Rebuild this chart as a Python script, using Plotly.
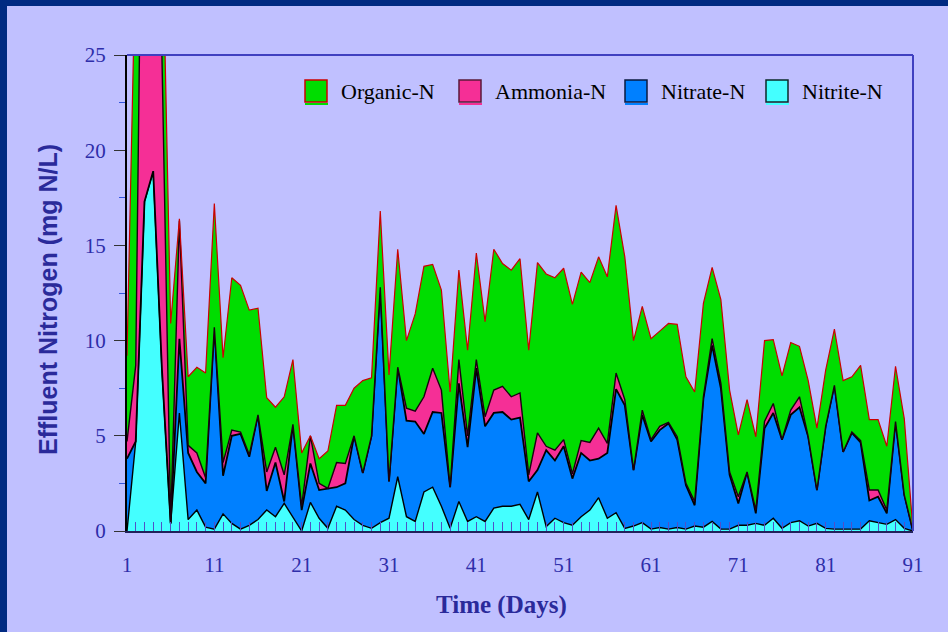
import plotly.graph_objects as go

days = list(range(1, 92))

nitrite = [0, 4.7, 17.3, 18.9, 8.5, 0.4, 6.2, 0.6, 1.1, 0.2,
           0.1, 0.9, 0.4, 0.1, 0.3, 0.6, 1.1, 0.75, 1.45, 0.75,
           0, 1.5, 0.67, 0.14, 1.3, 1.1, 0.6, 0.3, 0.14, 0.44,
           0.67, 2.85, 0.75, 0.5, 2.05, 2.3, 1.3, 0.14, 1.55, 0.5,
           0.75, 0.5, 1.2, 1.3, 1.3, 1.4, 0.6, 2.05, 0.23, 0.67,
           0.44, 0.3, 0.75, 1.1, 1.75, 0.67, 0.96, 0.14, 0.26, 0.44,
           0.1, 0.18, 0.1, 0.18, 0.1, 0.26, 0.2, 0.5, 0.1, 0.1,
           0.3, 0.3, 0.4, 0.3, 0.67, 0.14, 0.44, 0.54, 0.26, 0.4,
           0.14, 0.1, 0.1, 0.1, 0.1, 0.54, 0.44, 0.35, 0.6, 0.14,
           0]

nitrate = [3.8, 0, 0, 0, 0, 0, 3.9, 3.5, 2.0, 2.3,
           10.6, 2.0, 4.6, 5.0, 3.6, 5.5, 1.0, 2.85, 0.1, 4.85,
           1.1, 2.05, 1.48, 2.1, 1.0, 1.4, 4.4, 2.75, 4.86, 12.36,
           1.93, 5.75, 5.05, 5.25, 3.05, 3.95, 4.9, 2.16, 6.2, 3.9,
           7.8, 5.0, 5.0, 4.95, 4.55, 4.55, 2.0, 1.15, 4.02, 3.03,
           4.01, 2.45, 3.35, 2.6, 2.05, 3.43, 6.49, 6.46, 2.94, 5.66,
           4.6, 5.12, 5.55, 4.62, 2.3, 1.09, 6.75, 9.25, 7.4, 2.85,
           1.15, 2.8, 0.53, 5.1, 5.53, 4.66, 5.66, 5.96, 4.69, 1.75,
           5.36, 7.55, 4.05, 5.05, 4.55, 1.06, 1.36, 0.58, 5.15, 1.76,
           0]

ammonia = [0.9, 4.0, 30, 28, 16.5, 0, 6.2, 0.4, 1.0, 0.3,
           0, 0.7, 0.3, 0.1, 0.1, 0, 1.0, 0.8, 1.4, 0,
           0.2, 1.45, 0.35, 0, 1.3, 1.05, 0, 0, 0, 0,
           0, 0, 0.65, 0.55, 1.95, 2.3, 1.2, 0, 1.25, 0.6,
           0.45, 0.5, 1.2, 1.35, 1.2, 1.3, 0.35, 1.95, 0.2, 0.55,
           0.35, 0.25, 0.65, 0.95, 1.6, 0.5, 0.85, 0.3, 0, 0.25,
           0.1, 0.2, 0.05, 0.15, 0.1, 0.2, 0.1, 0.35, 0.25, 0.15,
           0.35, 0, 0.17, 0.35, 0.5, 0, 0.25, 0.55, 0, 0,
           0, 0, 0, 0.05, 0.1, 0.55, 0.35, 0.17, 0, 0,
           0]

organic = [4.5, 22, 5, 5, 8, 10.5, 0.1, 3.6, 4.5, 5.5,
           6.5, 5.5, 8.0, 7.7, 7.6, 5.6, 3.9, 2.1, 4.1, 3.4,
           2.8, 0.0, 1.3, 1.96, 3.0, 3.05, 2.5, 4.85, 3.05, 4.0,
           5.6, 6.2, 3.55, 5.1, 6.85, 5.45, 5.25, 5.0, 4.7, 4.5,
           5.6, 5.0, 7.4, 6.45, 6.65, 7.05, 6.55, 8.95, 9.05, 9.05,
           9.0, 8.9, 8.85, 8.4, 9.0, 8.75, 8.8, 7.5, 6.8, 5.45,
           5.3, 5.0, 5.2, 5.9, 5.6, 5.75, 4.9, 3.75, 4.4, 4.3,
           3.25, 3.8, 3.85, 4.25, 3.35, 3.35, 3.55, 2.65, 2.95, 3.25,
           2.95, 2.95, 3.75, 2.9, 3.95, 3.7, 3.7, 3.35, 2.9, 4.0,
           0.05]

series_names = ["Nitrite-N", "Nitrate-N", "Ammonia-N", "Organic-N"]
fill_colors = ["#44FFFF", "#0080FF", "#F52F96", "#00DD00"]
line_colors = ["#000000", "#000000", "#1A0010", "#CC0000"]
line_widths = [1.4, 1.8, 1.4, 1.2]
legend_order = ["Organic-N", "Ammonia-N", "Nitrate-N", "Nitrite-N"]
legend_borders = {"Organic-N": "#CC0000", "Ammonia-N": "#5A1A3A",
                  "Nitrate-N": "#0A1A40", "Nitrite-N": "#0A2A2A"}
x_label_days = [1, 11, 21, 31, 41, 51, 61, 71, 81, 91]

W, H = 948, 632
L, R, T, B = 127, 35, 55, 101
PW, PH = W - L - R, H - T - B
BG = "#C0C0FF"
NAVY = "#002A82"
TICKBLUE = "#2E2EAA"


def px(x):
    return (x - L) / PW


def py(y):
    return (H - B - y) / PH


fig = go.Figure()
for name, vals, fc, lc, lw in zip(series_names, [nitrite, nitrate, ammonia, organic],
                                  fill_colors, line_colors, line_widths):
    fig.add_trace(go.Scatter(
        x=days, y=vals, name=name, mode="lines", stackgroup="one",
        fillcolor=fc, line=dict(color=lc, width=lw), showlegend=False,
    ))

shapes = []
# lavender page fill, then navy border on top and left only
shapes.append(dict(type="rect", xref="paper", yref="paper",
                   x0=px(0), x1=px(W), y0=py(0), y1=py(H),
                   fillcolor=BG, line=dict(width=0), layer="below"))
shapes.append(dict(type="rect", xref="paper", yref="paper",
                   x0=px(0), x1=px(W), y0=py(0), y1=py(6),
                   fillcolor=NAVY, line=dict(width=0), layer="below"))
shapes.append(dict(type="rect", xref="paper", yref="paper",
                   x0=px(0), x1=px(7), y0=py(0), y1=py(H),
                   fillcolor=NAVY, line=dict(width=0), layer="below"))
# plot frame top and right
shapes.append(dict(type="line", xref="paper", yref="paper", x0=0, x1=1, y0=1, y1=1,
                   line=dict(color="#4040C0", width=2)))
shapes.append(dict(type="line", xref="paper", yref="paper", x0=1, x1=1, y0=0, y1=1,
                   line=dict(color="#4040C0", width=2)))

annotations = []
legend_x = {"Organic-N": 305, "Ammonia-N": 459, "Nitrate-N": 625, "Nitrite-N": 766}
color_of = dict(zip(series_names, fill_colors))
for name in legend_order:
    x0 = legend_x[name]
    shapes.append(dict(type="rect", xref="paper", yref="paper",
                       x0=px(x0), x1=px(x0 + 23), y0=py(103), y1=py(105),
                       fillcolor=color_of[name], line=dict(width=0)))
    shapes.append(dict(type="rect", xref="paper", yref="paper",
                       x0=px(x0), x1=px(x0 + 22), y0=py(80), y1=py(102),
                       fillcolor=color_of[name],
                       line=dict(color=legend_borders[name], width=1.5)))
    annotations.append(dict(xref="paper", yref="paper", x=px(x0 + 34), y=py(92),
                            text=name, showarrow=False, xanchor="left", yanchor="middle",
                            font=dict(family="Liberation Serif", size=22, color="#000000")))

annotations.append(dict(xref="paper", yref="paper", x=px(48), y=py(300),
                        text="Effluent Nitrogen (mg N/L)", textangle=-90, showarrow=False,
                        xanchor="center", yanchor="middle",
                        font=dict(family="Liberation Sans", size=25, color="#2A2A9A",
                                  weight="bold")))
annotations.append(dict(xref="paper", yref="paper", x=px(501), y=py(605),
                        text="Time (Days)", showarrow=False,
                        xanchor="center", yanchor="middle",
                        font=dict(family="Liberation Serif", size=25, color="#2A2A9A",
                                  weight="bold")))

fig.update_layout(
    width=W, height=H,
    margin=dict(l=L, r=R, t=T, b=B, autoexpand=False),
    paper_bgcolor=BG, plot_bgcolor=BG,
    showlegend=False,
    shapes=shapes, annotations=annotations,
    xaxis=dict(
        range=[1, 91], tickmode="array", tickvals=days,
        ticktext=[str(d) if d in x_label_days else "" for d in days],
        ticks="inside", ticklen=9, tickwidth=1, tickcolor="#5050C8",
        showline=True, linecolor="#20205A", linewidth=2,
        showgrid=False, zeroline=False,
        tickfont=dict(family="Liberation Serif", size=21, color=TICKBLUE),
        ticklabelstandoff=14,
    ),
    yaxis=dict(
        range=[0, 25], tickmode="linear", tick0=0, dtick=5,
        ticks="outside", ticklen=11, tickwidth=1.2, tickcolor="#333333",
        minor=dict(dtick=2.5, ticks="outside", ticklen=6, tickcolor="#3355DD", tickwidth=1.2),
        showline=True, linecolor="#000000", linewidth=2,
        showgrid=False, zeroline=False,
        tickfont=dict(family="Liberation Serif", size=21, color=TICKBLUE),
        ticklabelstandoff=4,
    ),
)

fig.write_html("out.html")
